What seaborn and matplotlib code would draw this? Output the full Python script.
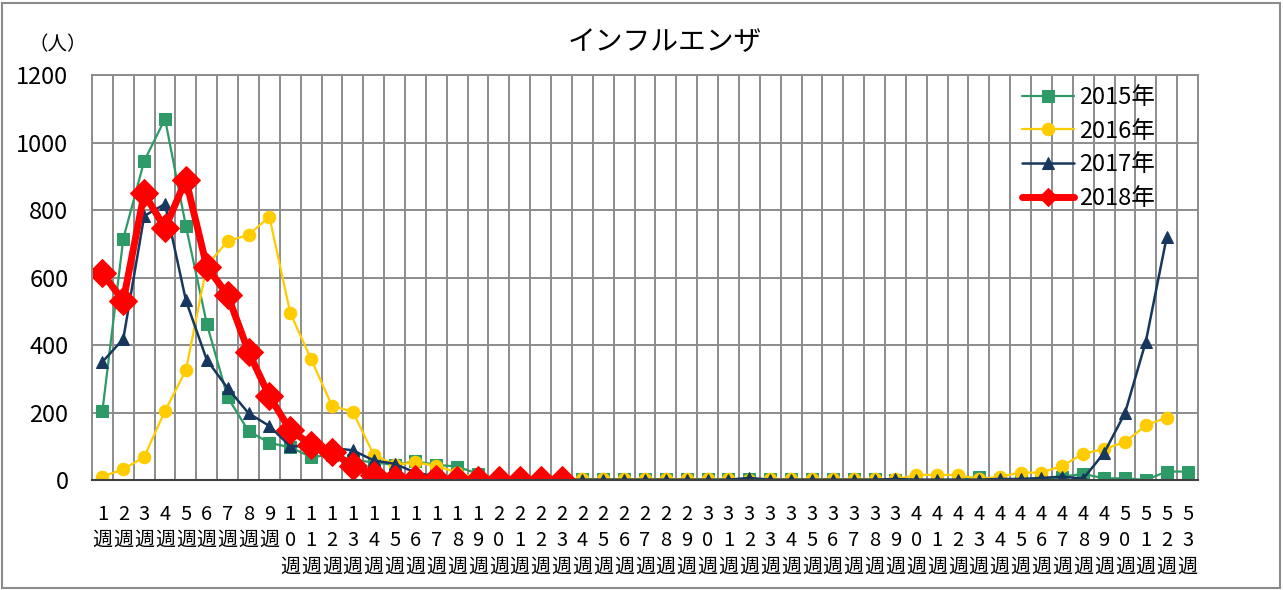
import matplotlib
matplotlib.use("Agg")
import matplotlib.pyplot as plt
import seaborn as sns
import pandas as pd
from matplotlib.patches import Rectangle
from matplotlib.ticker import MultipleLocator, FixedLocator

# weekly influenza reports (persons)
weeks = list(range(1, 54))
y2015 = [205, 715, 945, 1070, 752, 463, 245, 145, 110, 97, 68, 75, 60, 52, 45, 55, 45, 40, 18, 2,
         1, 1, 1, 2, 2, 2, 2, 2, 2, 2, 2, 2, 2, 2, 2, 2, 2, 2, 0, 0,
         0, 0, 10, 0, 0, 0, 10, 18, 5, 5, 0, 25, 25]
y2016 = [10, 32, 68, 205, 325, 635, 708, 726, 780, 495, 358, 220, 202, 75, 45, 52, 42, 22, 5, 2,
         2, 2, 2, 2, 2, 2, 2, 2, 2, 2, 2, 0, 2, 2, 2, 2, 2, 2, 2, 15,
         15, 15, 2, 10, 22, 22, 42, 78, 92, 112, 162, 185]
y2017 = [350, 418, 782, 818, 532, 356, 272, 198, 160, 100, 100, 95, 88, 58, 48, 22, 10, 5, 2, 1,
         1, 1, 1, 1, 1, 1, 1, 1, 1, 1, 1, 6, 1, 1, 1, 1, 1, 1, 3, 1,
         1, 1, 1, 3, 3, 6, 10, 4, 80, 198, 410, 720]
y2018 = [612, 531, 849, 746, 890, 632, 548, 380, 248, 148, 105, 82, 42, 15, 4, 3, 3, 0, 0, 0,
         0, 0, 0]
week_labels = ["\n".join(str(w)) + "\n週" for w in weeks]

series = [
    ("2015年", y2015, "#2E9A68", "s", 1.6, 8.5),
    ("2016年", y2016, "#FFCC00", "o", 1.6, 9),
    ("2017年", y2017, "#17375E", "^", 1.8, 9),
    ("2018年", y2018, "#FF0000", "D", 5.0, 14),
]

sns.set_style("white")
plt.rcParams["font.family"] = ["Noto Sans CJK JP", "DejaVu Sans"]
plt.rcParams["text.color"] = "black"
plt.rcParams["xtick.color"] = "black"
plt.rcParams["ytick.color"] = "black"

fig = plt.figure(figsize=(12.83, 5.90), dpi=100)
ax = fig.add_axes([92 / 1283, 1 - 480 / 590, (1198 - 92) / 1283, (480 - 75) / 590])

for name, vals, col, mk, lw, ms in series:
    df = pd.DataFrame({"pos": range(len(vals)), "n": vals})
    sns.lineplot(data=df, x="pos", y="n", ax=ax, color=col, marker=mk, markersize=ms,
                 markeredgecolor=col, markerfacecolor=col, linewidth=lw, label=name)

ax.set_xlim(-0.5, len(weeks) - 0.5)
ax.set_ylim(0, 1200)
ax.yaxis.set_major_locator(MultipleLocator(200))
ax.set_xticks(range(len(weeks)))
ax.set_xticklabels(week_labels, linespacing=1.35)
ax.xaxis.set_minor_locator(FixedLocator([i + 0.5 for i in range(-1, len(weeks))]))
ax.set_xlabel("")
ax.set_ylabel("")

grid_col = "#8C8C8C"
ax.grid(True, axis="y", which="major", color=grid_col, linewidth=1.4)
ax.grid(True, axis="x", which="minor", color=grid_col, linewidth=1.4)
ax.grid(False, axis="x", which="major")
ax.set_axisbelow(True)

ax.tick_params(axis="x", which="major", length=0, pad=17, labelsize=14.5)
ax.tick_params(axis="x", which="minor", length=5, width=1.2, color="#404040", direction="out")
ax.tick_params(axis="y", length=0, pad=17, labelsize=17)
for lab in ax.get_xticklabels():
    lab.set_verticalalignment("top")

for s in ["left", "top", "right"]:
    ax.spines[s].set_color(grid_col)
    ax.spines[s].set_linewidth(1.4)
ax.spines["bottom"].set_color("#404040")
ax.spines["bottom"].set_linewidth(1.5)

leg = ax.legend(loc="upper left", bbox_to_anchor=(1022 / 1283, 1 - 86 / 590),
                bbox_transform=fig.transFigure, frameon=False, fontsize=17,
                handlelength=2.2, handletextpad=0.2, labelspacing=0.45, borderpad=0,
                borderaxespad=0)
for h in leg.legend_handles:
    h.set_markersize(9)
leg.set_zorder(10)

fig.text(665 / 1283, 1 - 42 / 590, "インフルエンザ", ha="center", va="center", fontsize=20)
fig.text(58 / 1283, 1 - 45 / 590, "（人）", ha="center", va="center", fontsize=14)

fig.patches.append(Rectangle((2 / 1283, 2 / 590), 1278 / 1283, 585 / 590, transform=fig.transFigure,
                             fill=False, edgecolor="#8C8C8C", linewidth=1.5))

fig.savefig("out.png", dpi=100)
